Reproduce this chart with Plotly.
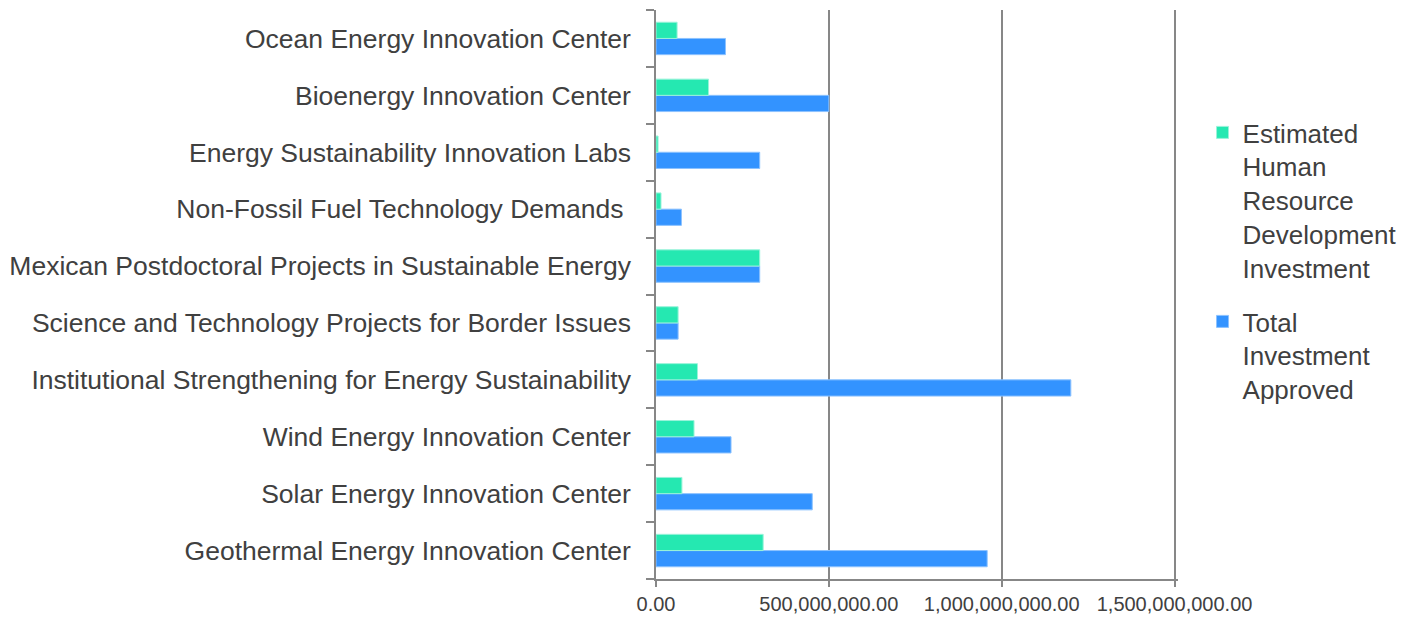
import plotly.graph_objects as go

categories = [
    "Geothermal Energy Innovation Center",
    "Solar Energy Innovation Center",
    "Wind Energy Innovation Center",
    "Institutional Strengthening for Energy Sustainability",
    "Science and Technology Projects for Border Issues",
    "Mexican Postdoctoral Projects in Sustainable Energy",
    "Non-Fossil Fuel Technology Demands\u00a0",
    "Energy Sustainability Innovation Labs",
    "Bioenergy Innovation Center",
    "Ocean Energy Innovation Center",
]
human_resource = [310e6, 75e6, 110e6, 120e6, 64e6, 300e6, 14.5e6, 6e6, 152e6, 61e6]
total_investment = [958e6, 452e6, 217e6, 1200e6, 64e6, 300e6, 73.5e6, 300e6, 500e6, 201e6]

tick_vals = [0, 500e6, 1000e6, 1500e6]

GREEN = "#25E8B1"
BLUE = "#3393FF"
TEXT = "#404040"
GRID = "#878787"

fig = go.Figure()
fig.add_trace(go.Bar(
    y=categories, x=total_investment, orientation="h",
    name="Total<br>Investment<br>Approved",
    marker=dict(color=BLUE, line=dict(color="#8CC2FF", width=1)),
    legendrank=2, legendgroup="total",
))
fig.add_trace(go.Bar(
    y=categories, x=human_resource, orientation="h",
    name="Estimated<br>Human<br>Resource<br>Development<br>Investment",
    marker=dict(color=GREEN, line=dict(color="#9AF3DA", width=1)),
    legendrank=1, legendgroup="hr",
))

fig.update_layout(
    width=1419, height=618,
    margin=dict(l=648, r=249, t=2, b=47, autoexpand=False),
    paper_bgcolor="white", plot_bgcolor="white",
    barmode="group", bargap=0.43, bargroupgap=0,
    font=dict(family="Liberation Sans, Arial, sans-serif", color=TEXT, size=20),
    showlegend=True,
    legend=dict(
        x=1.047, y=0.826, xanchor="left", yanchor="top",
        font=dict(size=26, color=TEXT),
        tracegroupgap=17, itemwidth=30, valign="top",
    ),
    xaxis=dict(
        range=[0, 1510e6], tickvals=tick_vals, tickformat=",.2f",
        showgrid=True, gridcolor=GRID, gridwidth=1.5,
        showline=True, linecolor=GRID, linewidth=1.5,
        ticks="outside", ticklen=6, tickcolor=GRID, tickwidth=1.5,
        tickfont=dict(size=20, color=TEXT), zeroline=False,
    ),
    yaxis=dict(
        type="category", categoryorder="array", categoryarray=categories,
        showline=True, linecolor=GRID, linewidth=1.5,
        ticks="outside", ticklen=8, tickcolor=GRID, tickwidth=1.5,
        tickson="boundaries", showgrid=False,
        tickfont=dict(size=26.5, color=TEXT), ticklabelstandoff=18,
    ),
)

fig.write_html("out.html")
